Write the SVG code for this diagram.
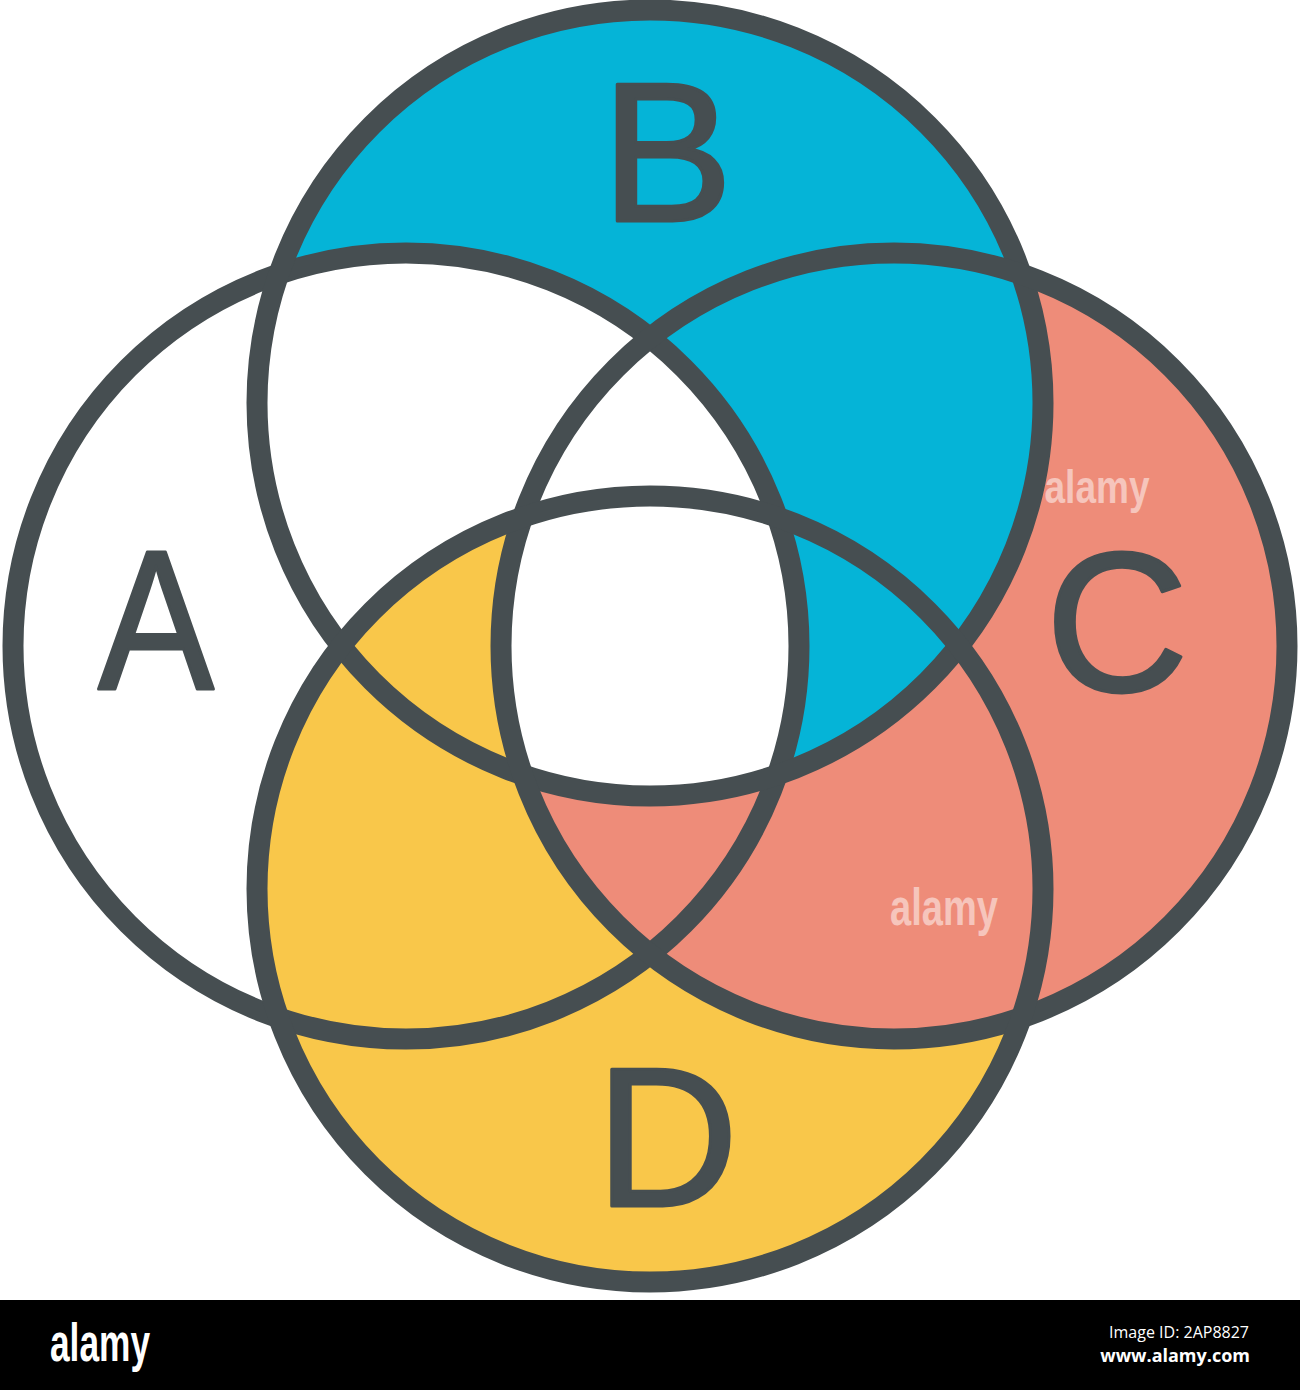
<svg xmlns="http://www.w3.org/2000/svg" width="1300" height="1390" viewBox="0 0 1300 1390">
  <style>
    .outline { fill: none; stroke: #464e51; stroke-width: 21; }
    .label { font-family: "Liberation Sans", Arial, sans-serif; font-size: 198px; fill: #464e51; stroke: #464e51; stroke-width: 3; stroke-linejoin: round; text-anchor: middle; }
    .wm { font-family: "Liberation Sans", Arial, sans-serif; font-weight: bold; fill: #ffffff; fill-opacity: 0.5; }
    .yellow { fill: #f9c74a; }
    .salmon { fill: #ee8c79; }
    .blue { fill: #05b4d7; }
    .white { fill: #ffffff; }
  </style>
  <defs>
    <circle id="cA" cx="406" cy="646" r="393"/>
    <circle id="cB" cx="650" cy="403" r="393"/>
    <circle id="cC" cx="894" cy="646" r="393"/>
    <circle id="cD" cx="650" cy="889" r="393"/>
    <clipPath id="clipA"><use href="#cA"/></clipPath>
    <clipPath id="clipC"><use href="#cC"/></clipPath>
    <clipPath id="clipD"><use href="#cD"/></clipPath>
  </defs>

  <rect x="0" y="0" width="1300" height="1300" fill="#ffffff"/>

  <g id="fills">
    <use href="#cD" class="yellow"/>
    <use href="#cC" class="salmon"/>
    <use href="#cB" class="blue"/>
    <use href="#cA" class="white"/>
    <g clip-path="url(#clipA)">
      <use href="#cD" class="yellow"/>
      <g clip-path="url(#clipD)">
        <use href="#cC" class="salmon"/>
        <g clip-path="url(#clipC)">
          <use href="#cB" class="white"/>
        </g>
      </g>
    </g>
  </g>

  <g id="watermarks">
    <text class="wm" x="1097" y="503" font-size="46" text-anchor="middle" textLength="105" lengthAdjust="spacingAndGlyphs">alamy</text>
    <text class="wm" x="944" y="925" font-size="52" text-anchor="middle" textLength="108" lengthAdjust="spacingAndGlyphs">alamy</text>
  </g>

  <g id="node-A">
    <use href="#cA" class="outline"/>
    <text class="label" x="156" y="689" textLength="116" lengthAdjust="spacingAndGlyphs">A</text>
  </g>
  <g id="node-B">
    <use href="#cB" class="outline"/>
    <text class="label" x="667" y="221">B</text>
  </g>
  <g id="node-C">
    <use href="#cC" class="outline"/>
    <text class="label" x="1117" y="691">C</text>
  </g>
  <g id="node-D">
    <use href="#cD" class="outline"/>
    <text class="label" x="667" y="1206">D</text>
  </g>

  <g id="footer">
    <rect x="0" y="1300" width="1300" height="90" fill="#000000"/>
    <text x="50" y="1361" font-family="Liberation Sans, Arial, sans-serif" font-weight="bold" font-size="54" fill="#ffffff" textLength="100" lengthAdjust="spacingAndGlyphs">alamy</text>
    <text x="1249" y="1338" font-family="'Open Sans', 'Noto Sans', sans-serif" font-size="16" fill="#ffffff" text-anchor="end">Image ID: 2AP8827</text>
    <text x="1250" y="1362" font-family="'Open Sans', 'Noto Sans', sans-serif" font-weight="bold" font-size="18" fill="#ffffff" text-anchor="end">www.alamy.com</text>
  </g>
</svg>
